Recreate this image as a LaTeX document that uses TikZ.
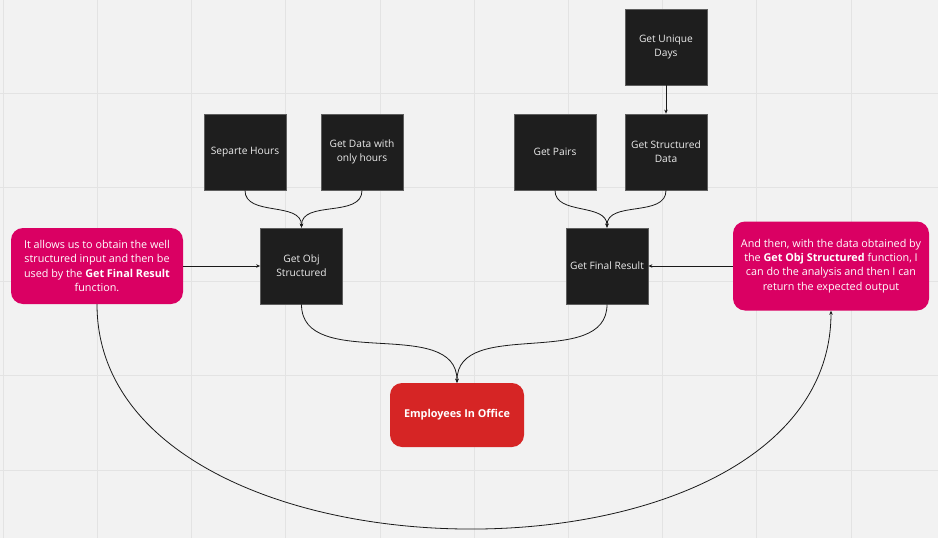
\documentclass[tikz,border=0pt]{standalone}
\usepackage{fontspec}
\setmainfont{Open Sans}
\usepackage{tikz}
\usetikzlibrary{positioning,arrows.meta}

\definecolor{bg}{HTML}{F2F2F2}
\definecolor{gridc}{HTML}{E3E3E3}
\definecolor{boxc}{HTML}{1E1E1E}
\definecolor{boxedge}{HTML}{5E5E5E}
\definecolor{notec}{HTML}{DA0063}
\definecolor{mainc}{HTML}{D62525}
\definecolor{linec}{HTML}{1A1A1A}

\begin{document}
\begin{tikzpicture}[x=1pt,y=-1pt]
        \tikzstyle{fn}=[rectangle, draw=boxedge, fill=boxc, text=white!92!black, minimum width=82pt, minimum height=76pt, inner sep=0pt, align=center, font=\fontsize{10.2}{14}\selectfont, line width=0.8pt]
        \tikzstyle{note}=[rectangle, rounded corners=12pt, fill=notec, text=white, inner sep=0pt, align=center, font=\fontsize{10.8}{14.3}\selectfont]
        \tikzstyle{link}=[draw=linec, line width=0.8pt, -{Stealth[length=4pt,width=3.5pt]}]

        \useasboundingbox (0,0) rectangle (938,538);
        \fill[bg] (0,0) rectangle (938,538);
        \foreach \i in {0,...,9} {
            \draw[gridc, line width=1pt] (3.3+94.2*\i,0) -- (3.3+94.2*\i,538);
        }
        \foreach \j in {0,...,5} {
            \draw[gridc, line width=1pt] (0,470-94.2*\j) -- (938,470-94.2*\j);
        }

        \node[fn] (days)  at (666,47)    {Get Unique\\Days};
        \node[fn] (sdata) at (666,152)   {Get Structured\\Data};
        \node[fn] (pairs) at (555,152)   {Get Pairs};
        \node[fn] (hours) at (245,152)   {Separte Hours};
        \node[fn] (onlyh) at (362,152)   {Get Data with\\only hours};
        \node[fn] (obj)   at (301.5,266) {Get Obj\\Structured};
        \node[fn] (final) at (607,266)   {Get Final Result};

        \node[note, minimum width=172pt, minimum height=76pt] (lnote) at (97,266)
            {It allows us to obtain the well\\structured input and then be\\used by the \textbf{Get Final Result}\\function.};
        \node[note, minimum width=196pt, minimum height=89pt] (rnote) at (831,266)
            {And then, with the data obtained by\\the \textbf{Get Obj Structured} function, I\\can do the analysis and then I can\\return the expected output};
        \node[note, fill=mainc, minimum width=134pt, minimum height=64pt, font=\fontsize{10.8}{12}\selectfont\bfseries] (office) at (457,415) {Employees In Office};

        \draw[link] (days) -- (sdata);
        \draw[link] (hours.south) to[out=-90,in=90] (obj.north);
        \draw[link] (onlyh.south) to[out=-90,in=90] (obj.north);
        \draw[link] (pairs.south) to[out=-90,in=90] (final.north);
        \draw[link] (sdata.south) to[out=-90,in=90] (final.north);
        \draw[link] (obj.south) to[out=-90,in=90] (office.north);
        \draw[link] (final.south) to[out=-90,in=90] (office.north);
        \draw[link] (lnote) -- (obj);
        \draw[link] (rnote) -- (final);
        \draw[link] (lnote.south) .. controls +(0,295) and +(0,295) .. (rnote.south);
    \end{tikzpicture}
\end{document}
